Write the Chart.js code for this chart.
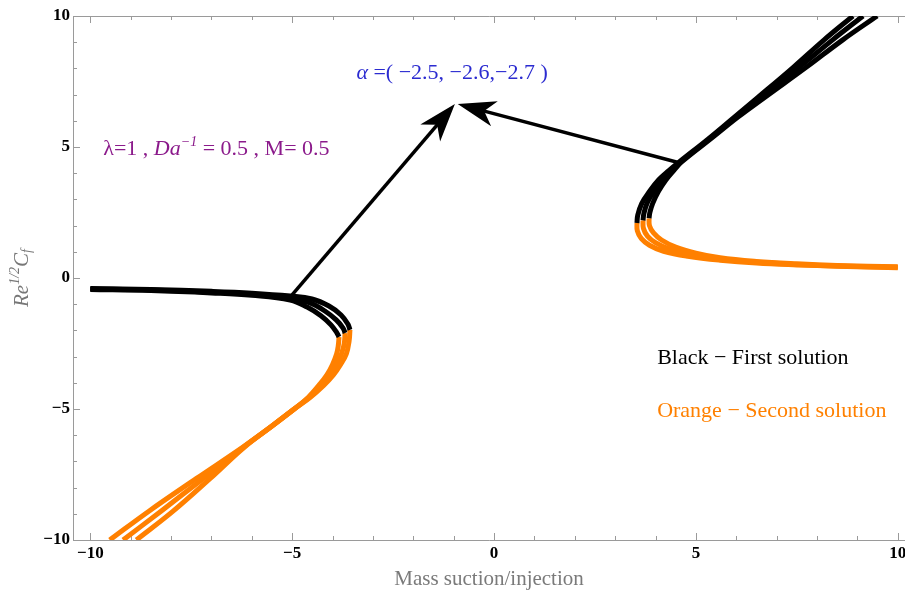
<!DOCTYPE html>
<html>
<head>
<meta charset="utf-8">
<script src="https://cdn.jsdelivr.net/npm/chart.js@4.4.0/dist/chart.umd.min.js"></script>
<style>
  body { margin: 0; background: #fff; }
</style>
</head>
<body>
<canvas id="myChart" width="905" height="596"></canvas>
<script>
// tick labels
const xTicks = [-10, -5, 0, 5, 10];
const yTicks = [-10, -5, 0, 5, 10];
const alphas = [-2.5, -2.6, -2.7];

// first solution (black), left branch
const firstLeft1 = [[-10,-0.40],[-8.5,-0.44],[-7,-0.51],[-6,-0.58],[-5.05,-0.69],[-4.51,-0.80],[-4.09,-1.07],[-3.79,-1.41],[-3.62,-1.76],[-3.57,-1.98]];
const firstLeft2 = [[-10,-0.42],[-8.5,-0.46],[-7,-0.54],[-6,-0.62],[-5.05,-0.76],[-4.56,-0.95],[-4.19,-1.26],[-3.91,-1.60],[-3.74,-1.91],[-3.69,-2.10]];
const firstLeft3 = [[-10,-0.44],[-8.5,-0.48],[-7,-0.57],[-6,-0.66],[-5.05,-0.84],[-4.63,-1.11],[-4.28,-1.45],[-4.04,-1.79],[-3.89,-2.10],[-3.84,-2.25]];

// second solution (orange), left branch
const secondLeft1 = [[-3.57,-1.98],[-3.59,-2.4],[-3.66,-2.9],[-3.8,-3.3],[-3.98,-3.7],[-4.22,-4.1],[-4.55,-4.55],[-4.95,-5.0],[-5.5,-5.65],[-6.18,-6.45],[-7.03,-7.65],[-7.95,-8.9],[-8.86,-10]];
const secondLeft2 = [[-3.69,-2.10],[-3.71,-2.5],[-3.78,-2.9],[-3.9,-3.3],[-4.06,-3.7],[-4.28,-4.1],[-4.57,-4.55],[-4.95,-5.0],[-5.5,-5.65],[-6.2,-6.45],[-7.2,-7.65],[-8.25,-8.9],[-9.19,-10]];
const secondLeft3 = [[-3.84,-2.25],[-3.86,-2.6],[-3.9,-2.9],[-4.0,-3.3],[-4.14,-3.7],[-4.34,-4.1],[-4.6,-4.55],[-4.95,-5.0],[-5.5,-5.65],[-6.22,-6.45],[-7.37,-7.65],[-8.55,-8.9],[-9.52,-10]];

// first solution (black), right branch
const firstRight1 = [[3.54,2.1],[3.56,2.4],[3.66,2.85],[3.85,3.3],[4.08,3.75],[4.33,4.1],[4.58,4.42],[5.3,5.3],[5.96,6.15],[6.55,6.91],[7.42,8.05],[8.17,9.08],[8.89,10]];
const firstRight2 = [[3.69,2.2],[3.71,2.45],[3.79,2.85],[3.95,3.3],[4.16,3.75],[4.38,4.1],[4.61,4.42],[5.33,5.3],[6.0,6.15],[6.62,6.91],[7.56,8.05],[8.38,9.08],[9.14,10]];
const firstRight3 = [[3.84,2.28],[3.86,2.5],[3.93,2.85],[4.07,3.3],[4.26,3.75],[4.45,4.1],[4.64,4.42],[5.36,5.3],[6.05,6.15],[6.72,6.91],[7.74,8.05],[8.63,9.08],[9.49,10]];

// second solution (orange), right branch
const secondRight1 = [[3.54,2.1],[3.55,1.8],[3.65,1.5],[3.85,1.25],[4.2,1.02],[4.8,0.83],[5.6,0.68],[6.5,0.57],[7.5,0.5],[8.5,0.45],[10,0.39]];
const secondRight2 = [[3.69,2.2],[3.7,1.9],[3.8,1.6],[4.0,1.35],[4.35,1.1],[4.9,0.89],[5.6,0.72],[6.5,0.6],[7.5,0.52],[8.5,0.46],[10,0.41]];
const secondRight3 = [[3.84,2.28],[3.85,2.0],[3.95,1.72],[4.15,1.45],[4.5,1.18],[5.0,0.95],[5.6,0.77],[6.5,0.63],[7.5,0.54],[8.5,0.48],[10,0.43]];

// arrows: tail and tip in data units
const arrowTails = [[-5.05,-0.73],[4.61,4.39]];
const arrowTips = [[-0.97,6.64],[-0.9,6.64]];

const BLACK = '#000000';
const ORANGE = '#ff8000';
const SERIF = "'Liberation Serif', 'Times New Roman', serif";

function curve(points, color, label) {
  return {
    label: label,
    data: points.map(p => ({x: p[0], y: p[1]})),
    showLine: true,
    borderColor: color,
    backgroundColor: color,
    borderWidth: 5,
    pointRadius: 0,
    tension: 0.4,
    borderCapStyle: 'butt',
    fill: false
  };
}

const datasets = [
  curve(firstLeft1, BLACK, 'first ' + alphas[0]),
  curve(firstLeft2, BLACK, 'first ' + alphas[1]),
  curve(firstLeft3, BLACK, 'first ' + alphas[2]),
  curve(firstRight1, BLACK, 'first ' + alphas[0]),
  curve(firstRight2, BLACK, 'first ' + alphas[1]),
  curve(firstRight3, BLACK, 'first ' + alphas[2]),
  curve(secondLeft1, ORANGE, 'second ' + alphas[0]),
  curve(secondLeft2, ORANGE, 'second ' + alphas[1]),
  curve(secondLeft3, ORANGE, 'second ' + alphas[2]),
  curve(secondRight1, ORANGE, 'second ' + alphas[0]),
  curve(secondRight2, ORANGE, 'second ' + alphas[1]),
  curve(secondRight3, ORANGE, 'second ' + alphas[2])
];

function minusLabel(v) {
  return v < 0 ? '\u2212' + Math.abs(v) : String(v);
}

// frame with inward ticks, like Mathematica
const framePlugin = {
  id: 'frame',
  beforeDatasetsDraw(chart) {
    const ctx = chart.ctx;
    const a = chart.chartArea;
    const x = chart.scales.x, y = chart.scales.y;
    ctx.save();
    ctx.strokeStyle = '#9a9a9a';
    ctx.lineWidth = 1;
    ctx.beginPath();
    ctx.moveTo(a.left + 0.5, a.top + 0.5);
    ctx.lineTo(a.right, a.top + 0.5);
    ctx.moveTo(a.left + 0.5, a.top);
    ctx.lineTo(a.left + 0.5, a.bottom + 0.5);
    ctx.lineTo(a.right, a.bottom + 0.5);
    for (let v = -10; v <= 10; v++) {
      const len = v % 5 === 0 ? 7 : 4;
      const px = Math.round(x.getPixelForValue(v)) + 0.5;
      ctx.moveTo(px, a.bottom);
      ctx.lineTo(px, a.bottom - len);
      ctx.moveTo(px, a.top);
      ctx.lineTo(px, a.top + len);
      const py = Math.round(y.getPixelForValue(v)) + 0.5;
      ctx.moveTo(a.left, py);
      ctx.lineTo(a.left + len, py);
    }
    ctx.stroke();
    ctx.restore();
  }
};

function drawRuns(ctx, x, y, runs, align) {
  let total = 0;
  runs.forEach(r => { ctx.font = r.font; r.w = ctx.measureText(r.text).width; total += r.w; });
  let cx = align === 'center' ? x - total / 2 : x;
  runs.forEach(r => {
    ctx.font = r.font;
    ctx.fillText(r.text, cx, y + (r.dy || 0));
    cx += r.w;
  });
}

const notesPlugin = {
  id: 'notes',
  afterDatasetsDraw(chart) {
    const ctx = chart.ctx;
    const x = chart.scales.x, y = chart.scales.y;
    ctx.save();

    // arrows
    ctx.fillStyle = BLACK;
    ctx.strokeStyle = BLACK;
    ctx.lineWidth = 3.5;
    for (let i = 0; i < arrowTails.length; i++) {
      const tx = x.getPixelForValue(arrowTails[i][0]), ty = y.getPixelForValue(arrowTails[i][1]);
      const hx = x.getPixelForValue(arrowTips[i][0]), hy = y.getPixelForValue(arrowTips[i][1]);
      const d = Math.hypot(hx - tx, hy - ty);
      const ux = (hx - tx) / d, uy = (hy - ty) / d;
      const nx = -uy, ny = ux;
      const L = 38, W = 13;
      ctx.beginPath();
      ctx.moveTo(tx, ty);
      ctx.lineTo(hx - ux * L * 0.7, hy - uy * L * 0.7);
      ctx.stroke();
      ctx.beginPath();
      ctx.moveTo(hx, hy);
      ctx.lineTo(hx - ux * L + nx * W, hy - uy * L + ny * W);
      ctx.lineTo(hx - ux * L * 0.72, hy - uy * L * 0.72);
      ctx.lineTo(hx - ux * L - nx * W, hy - uy * L - ny * W);
      ctx.closePath();
      ctx.fill();
    }

    ctx.textBaseline = 'alphabetic';
    ctx.textAlign = 'left';

    ctx.fillStyle = '#2b2bd0';
    drawRuns(ctx, x.getPixelForValue(-1.04), y.getPixelForValue(7.6), [
      {text: '\u03b1', font: 'italic 22px ' + SERIF},
      {text: ' =( \u22122.5, \u22122.6,\u22122.7 )', font: '22px ' + SERIF}
    ], 'center');

    ctx.fillStyle = '#8b1a8b';
    drawRuns(ctx, x.getPixelForValue(-9.68), y.getPixelForValue(4.69), [
      {text: '\u03bb=1 , ', font: '22px ' + SERIF},
      {text: 'Da', font: 'italic 22px ' + SERIF},
      {text: '\u22121', font: 'italic 14px ' + SERIF, dy: -9},
      {text: ' = 0.5 , M= 0.5', font: '22px ' + SERIF}
    ], 'left');

    ctx.fillStyle = BLACK;
    drawRuns(ctx, x.getPixelForValue(4.04), y.getPixelForValue(-3.28), [
      {text: 'Black \u2212 First solution', font: '22px ' + SERIF}
    ], 'left');

    ctx.fillStyle = ORANGE;
    drawRuns(ctx, x.getPixelForValue(4.04), y.getPixelForValue(-5.31), [
      {text: 'Orange \u2212 Second solution', font: '22px ' + SERIF}
    ], 'left');

    // y axis title
    const a = chart.chartArea;
    ctx.translate(22, (a.top + a.bottom) / 2);
    ctx.rotate(-Math.PI / 2);
    ctx.fillStyle = '#777777';
    ctx.textBaseline = 'middle';
    drawRuns(ctx, 0, 0, [
      {text: 'Re', font: 'italic 21px ' + SERIF},
      {text: '1/2', font: 'italic 14px ' + SERIF, dy: -7},
      {text: 'C', font: 'italic 21px ' + SERIF},
      {text: 'f', font: 'italic 14px ' + SERIF, dy: 5}
    ], 'center');

    ctx.restore();
  }
};

const ctx = document.getElementById('myChart').getContext('2d');
let myChart = new Chart(ctx, {
  type: 'scatter',
  data: { datasets: datasets },
  options: {
    responsive: false,
    animation: false,
    layout: { padding: { top: 16, right: 0, bottom: 0, left: 0 } },
    plugins: {
      legend: { display: false },
      tooltip: { enabled: false }
    },
    scales: {
      x: {
        type: 'linear',
        min: -10.43,
        max: 10.18,
        afterBuildTicks: scale => { scale.ticks = xTicks.map(v => ({value: v})); },
        afterFit: scale => { scale.height = 56; scale.paddingLeft = 0; scale.paddingRight = 0; },
        grid: { display: false, drawTicks: false },
        border: { display: false },
        ticks: {
          padding: 3,
          color: '#000',
          maxRotation: 0,
          autoSkip: false,
          font: { family: SERIF, size: 17, weight: 'bold' },
          callback: v => minusLabel(v)
        },
        title: {
          display: true,
          text: 'Mass suction/injection',
          color: '#7a7a7a',
          font: { family: SERIF, size: 21 },
          padding: { top: 2, bottom: 4 }
        }
      },
      y: {
        type: 'linear',
        min: -10,
        max: 10,
        afterBuildTicks: scale => { scale.ticks = yTicks.map(v => ({value: v})); },
        afterFit: scale => { scale.width = 73; scale.paddingTop = 0; scale.paddingBottom = 0; },
        grid: { display: false, drawTicks: false },
        border: { display: false },
        ticks: {
          padding: 3,
          color: '#000',
          autoSkip: false,
          font: { family: SERIF, size: 17, weight: 'bold' },
          callback: v => minusLabel(v)
        }
      }
    }
  },
  plugins: [framePlugin, notesPlugin]
});
</script>
</body>
</html>
